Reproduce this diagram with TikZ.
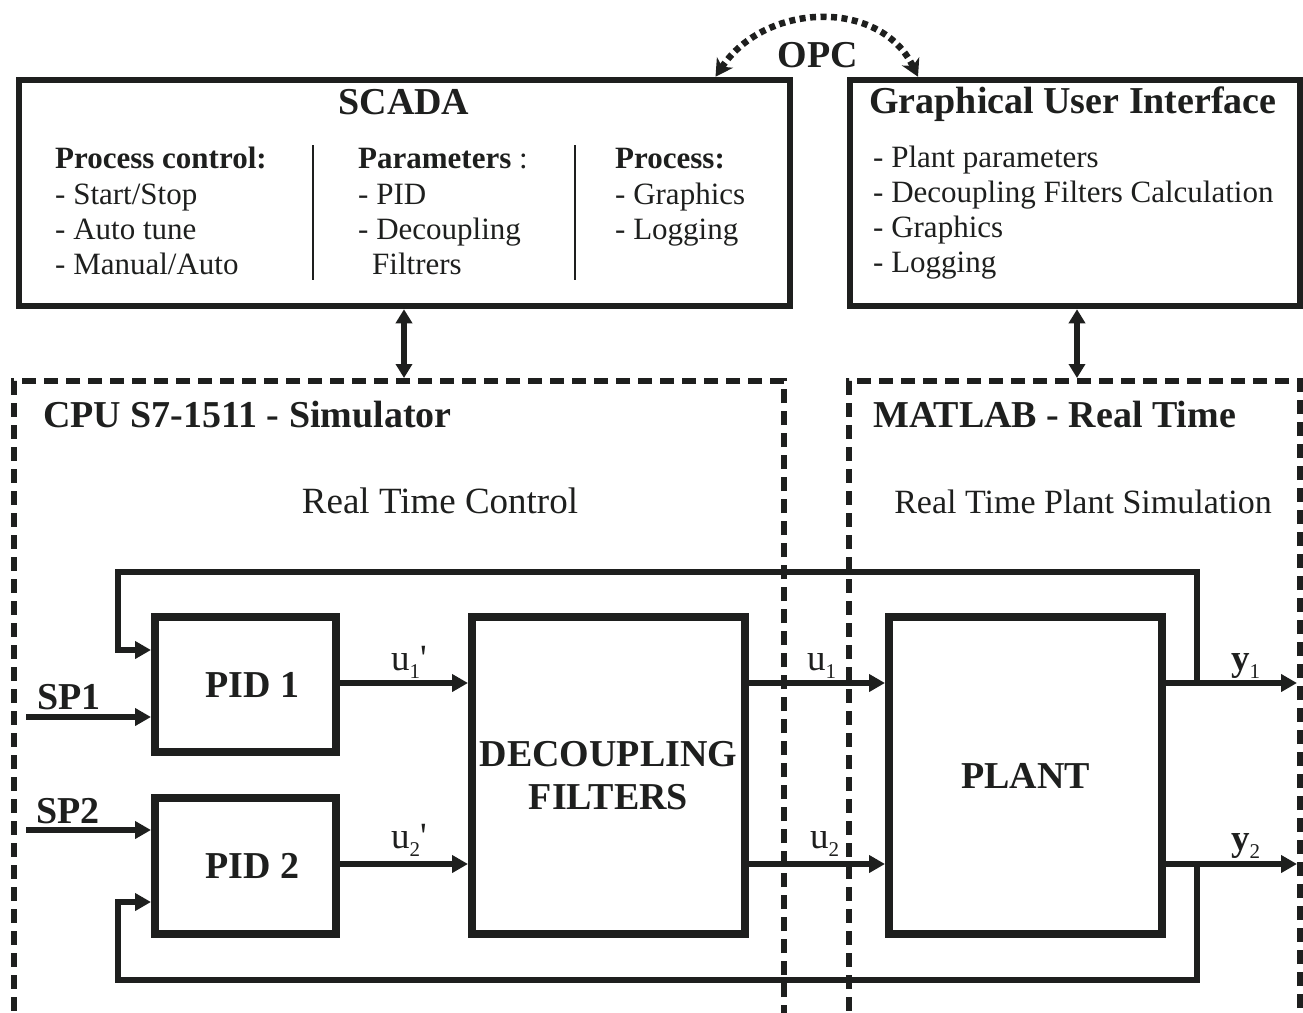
\documentclass[tikz,border=0pt]{standalone}
\usepackage{fontspec}
\setmainfont{Liberation Serif}
\usetikzlibrary{arrows.meta,calc}
\definecolor{ink}{HTML}{1E1F1E}
\newcommand\apos{\XeTeXglyph\XeTeXcharglyph"0027\relax}
\newcommand\lowsub[1]{\raisebox{-8pt}{\fontsize{21}{21}\selectfont #1}}
\begin{document}
\begin{tikzpicture}[x=1pt,y=-1pt,
  box/.style={draw=ink,line width=8pt,inner sep=0pt},
  dbox/.style={draw=ink,line width=6pt,dash pattern=on 14pt off 8pt,inner sep=0pt},
  ttl/.style={inner sep=0pt,text=ink,font=\fontsize{38}{43}\selectfont\bfseries},
  body/.style={inner sep=0pt,anchor=base west,text=ink,font=\fontsize{31}{35}\selectfont},
  lbl/.style={inner sep=0pt,anchor=base west,text=ink,font=\fontsize{37}{40}\selectfont},
  arr/.style={draw=ink,line width=6.5pt,-{Triangle[length=16pt,width=17pt]}},
  biarr/.style={draw=ink,line width=6pt,{Triangle[length=14pt,width=16pt]}-{Triangle[length=14pt,width=16pt]}},
  opcarr/.style={draw=ink,line width=6.5pt,dash pattern=on 6pt off 4.5pt,{Stealth[length=17pt,width=19pt,inset=5pt]}-{Stealth[length=17pt,width=19pt,inset=5pt]}},
  sep/.style={draw=ink,line width=2pt}
]
\useasboundingbox (0,0) rectangle (1303,1012);

% ---- top boxes ----
\node[box,line width=6.5pt,minimum width=771pt,minimum height=226pt] (scada) at (404.5,193) {};
\node[box,line width=6.5pt,minimum width=450pt,minimum height=226pt] (gui) at (1075,193) {};

\node[ttl,anchor=base] (scadat) at (404,114) {SCADA};
\node[ttl,anchor=base] (guit) at (1073,113) {Graphical User Interface};

\node[body] (c1a) at (55,168) {\textbf{Process control:}};
\node[body] (c1b) at (55,204) {- Start/Stop};
\node[body] (c1c) at (55,239) {- Auto tune};
\node[body] (c1d) at (55,274) {- Manual/Auto};

\node[body] (c2a) at (358,168) {\textbf{Parameters} :};
\node[body] (c2b) at (358,204) {- PID};
\node[body] (c2c) at (358,239) {- Decoupling};
\node[body] (c2d) at (372,274) {Filtrers};

\node[body] (c3a) at (615,168) {\textbf{Process:}};
\node[body] (c3b) at (615,204) {- Graphics};
\node[body] (c3c) at (615,239) {- Logging};

\draw[sep] (313,145) -- (313,280);
\draw[sep] (575,145) -- (575,280);

\node[body] (g1) at (873,167) {- Plant parameters};
\node[body] (g2) at (873,202) {- Decoupling Filters Calculation};
\node[body] (g3) at (873,237) {- Graphics};
\node[body] (g4) at (873,272) {- Logging};

% ---- dashed regions (bottom edge falls at the picture's lower border) ----
\node[dbox,minimum width=770pt,minimum height=638pt] (cpu) at (399,700) {};
\node[dbox,minimum width=451pt,minimum height=638pt] (mat) at (1074.5,700) {};

\node[ttl,anchor=base west] (cput) at (43,427) {CPU S7-1511 - Simulator};
\node[ttl,anchor=base west] (matt) at (873,427) {MATLAB - Real Time};
\node[lbl,anchor=base] (rtc) at (440,513) {Real Time Control};
\node[lbl,anchor=base,font=\fontsize{34}{40}\selectfont] (rtp) at (1083,513) {Real Time Plant Simulation};

% ---- blocks ----
\node[box,minimum width=181pt,minimum height=135pt] (pid1) at (245.5,684.5) {};
\node[box,minimum width=181pt,minimum height=136pt] (pid2) at (245.5,866) {};
\node[ttl] (pid1t) at ($(pid1)+(7,0)$) {PID 1};
\node[ttl] (pid2t) at ($(pid2)+(7,0)$) {PID 2};
\node[box,ttl,line width=8pt,draw=ink,align=center,minimum width=273pt,minimum height=317pt] (dec) at (608.5,775.5) {DECOUPLING\\FILTERS};
\node[box,ttl,line width=8pt,draw=ink,minimum width=273pt,minimum height=317pt] (plant) at (1025.5,775.5) {PLANT};

% ---- coordinates ----
\coordinate (sp1s) at (26,717);
\coordinate (sp2s) at (26,830);
\coordinate (y1e) at (1297,683);
\coordinate (y2e) at (1297,864);
\coordinate (fbtR) at (1197,683);
\coordinate (fbbR) at (1197,864);
\coordinate (opcL) at ($(scada.north)+(311,0)$);
\coordinate (opcR) at ($(gui.north)+(-157,0)$);

% ---- connectors ----
\draw[arr] (pid1.east |- 0,683) -- (dec.west |- 0,683);
\draw[arr] (pid2.east |- 0,864) -- (dec.west |- 0,864);
\draw[arr] (dec.east |- 0,683) -- (plant.west |- 0,683);
\draw[arr] (dec.east |- 0,864) -- (plant.west |- 0,864);
\draw[arr] (plant.east |- y1e) -- (y1e);
\draw[arr] (plant.east |- y2e) -- (y2e);
\draw[arr] (sp1s) -- (pid1.west |- sp1s);
\draw[arr] (sp2s) -- (pid2.west |- sp2s);
\draw[arr] (fbtR) -- (fbtR |- 0,572) -- (118,572) |- ($(pid1.west)+(0,-34.5)$);
\draw[arr] (fbbR) -- (fbbR |- 0,980) -- (118,980) |- ($(pid2.west)+(0,36)$);

\draw[biarr] (scada.south -| 404,0) -- (cpu.north -| 404,0);
\draw[biarr] (gui.south -| 1077,0) -- (mat.north -| 1077,0);

\draw[opcarr] (opcL) .. controls (765,2) and (880,-2) .. (opcR);

% ---- labels ----
\node[ttl,anchor=base west] (sp1l) at (37,709) {SP1};
\node[ttl,anchor=base west] (sp2l) at (36,823) {SP2};
\node[ttl,anchor=base] (opcl) at (818,67) {OPC};
\node[lbl] (u1pl) at (391,670) {u\lowsub{1}\apos};
\node[lbl] (u2pl) at (391,848) {u\lowsub{2}\apos};
\node[lbl] (u1l) at (807,670) {u\lowsub{1}};
\node[lbl] (u2l) at (810,848) {u\lowsub{2}};
\node[lbl] (y1l) at (1231,670) {\textbf{y}\lowsub{1}};
\node[lbl] (y2l) at (1231,850) {\textbf{y}\lowsub{2}};
\end{tikzpicture}
\end{document}
